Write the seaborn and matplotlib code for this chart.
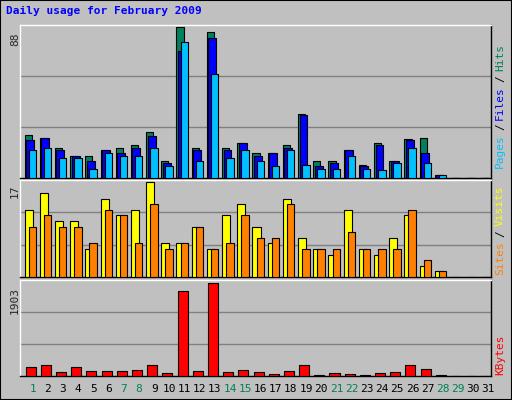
import numpy as np
import matplotlib
matplotlib.use("Agg")
import matplotlib.pyplot as plt
import seaborn as sns

# Daily values, February 2009
days = list(range(1, 32))
hits = [25, 23.5, 17.5, 13, 13, 16, 17.5, 19, 26.5, 10, 88, 17.5, 85, 17.5, 20.5, 14.5,
        14.5, 19, 37, 10, 10, 16, 7.5, 20.5, 10, 22.5, 23.5, 1.5, 0, 0, 0]
files = [22, 23.5, 16, 13, 10, 16, 14.5, 17.5, 24.5, 8.5, 73.5, 16, 81.5, 16, 20.5, 13,
         14.5, 17.5, 36.5, 7, 8.5, 16, 7, 19, 10, 22, 14.5, 1.5, 0, 0, 0]
pages = [16, 17.5, 11.5, 11.5, 5.5, 14.5, 13, 13, 17.5, 7, 79, 10, 60.5, 11.5, 16, 10,
         7, 16, 7.5, 5.5, 5.5, 13, 5.5, 4.5, 8.5, 17.5, 8.5, 1.5, 0, 0, 0]
visits = [12, 15, 10, 10, 5, 14, 11, 12, 17, 6, 6, 9, 5, 11, 13, 9,
          6, 14, 7, 5, 4, 12, 5, 4, 7, 11, 2, 1, 0, 0, 0]
sites = [9, 11, 9, 9, 6, 12, 11, 6, 13, 5, 6, 9, 5, 6, 11, 7,
         7, 13, 5, 5, 5, 8, 5, 5, 5, 12, 3, 1, 0, 0, 0]
kbytes = [174, 215, 90, 174, 111, 111, 111, 132, 215, 69, 1736, 111, 1903, 90, 132, 90,
          49, 111, 215, 14, 69, 49, 14, 69, 90, 215, 153, 14, 0, 0, 0]
weekend = {1, 7, 8, 14, 15, 21, 22, 28, 29}

sns.set_style("white")
plt.rcParams["font.family"] = ["DejaVu Sans Mono"]

W, H = 512, 400
fig = plt.figure(figsize=(W / 100, H / 100), dpi=100, facecolor="#c0c0c0")
fig.patches.append(plt.Rectangle((0, 0), 1, 1, transform=fig.transFigure,
                                 fill=False, edgecolor="black", linewidth=1.5))

def make_ax(top, bottom):
    ax = fig.add_axes([20 / W, 1 - bottom / H, 471 / W, (bottom - top) / H])
    ax.set_facecolor("#c0c0c0")
    ax.set_xlim(0, 31)
    ax.set_xticks([])
    ax.set_yticks([])
    for s in ax.spines.values():
        s.set_color("black")
        s.set_linewidth(1)
    ax.spines["top"].set_color("white")
    ax.spines["left"].set_color("white")
    return ax

x = np.arange(31)

def bars(ax, vals, start, end, color):
    ax.bar(x + start, vals, width=end - start, align="edge", color=color,
           edgecolor="black", linewidth=0.8, zorder=3)

def grid(ax, vmax):
    ax.set_ylim(0, vmax)
    for f in (1 / 3, 2 / 3):
        ax.axhline(vmax * f, color="#808080", linewidth=1, zorder=1)

ax1 = make_ax(25, 178)
grid(ax1, 88 * 1.01)
bars(ax1, hits, 0.30, 0.77, "#00805c")
bars(ax1, files, 0.40, 0.92, "#0000ff")
bars(ax1, pages, 0.57, 1.06, "#00c0ff")

ax2 = make_ax(180, 277)
grid(ax2, 17 * 1.02)
bars(ax2, visits, 0.30, 0.83, "#ffff00")
bars(ax2, sites, 0.57, 1.06, "#ff8000")

ax3 = make_ax(280, 376)
grid(ax3, 1903 * 1.03)
bars(ax3, kbytes, 0.37, 1.03, "#ff0000")

fs = 8
for day in days:
    fig.text((20 + (day - 1 + 0.83) * 471 / 31) / W, 1 - 389 / H, str(day),
             ha="center", va="center", fontsize=fs,
             color="#00805c" if day in weekend else "black")

fig.text(6 / W, 1 - 11 / H, "Daily usage for February 2009", color="#0000ff",
         fontsize=fs, fontweight="bold", va="center", ha="left")

for y, label in ((33, "88"), (185, "17"), (287, "1903")):
    fig.text(15 / W, 1 - y / H, label, rotation=90, fontsize=fs, ha="center", va="top")

renderer = fig.canvas.get_renderer()

def side(y, parts):
    # stacked rotated text on the right, drawn bottom-to-top
    pos = y
    for text, color in parts:
        t = fig.text(500 / W, 1 - pos / H, text.strip(), rotation=90, fontsize=fs,
                     color=color, ha="center", va="bottom")
        pos -= t.get_window_extent(renderer).height + 4

side(168, [("Pages", "#00c0ff"), ("/", "black"), ("Files", "#0000ff"),
           ("/", "black"), ("Hits", "#00805c")])
side(275, [("Sites", "#ff8000"), ("/", "black"), ("Visits", "#ffff00")])
side(375, [("KBytes", "#ff0000")])

fig.savefig("out.png", dpi=100, facecolor=fig.get_facecolor())
